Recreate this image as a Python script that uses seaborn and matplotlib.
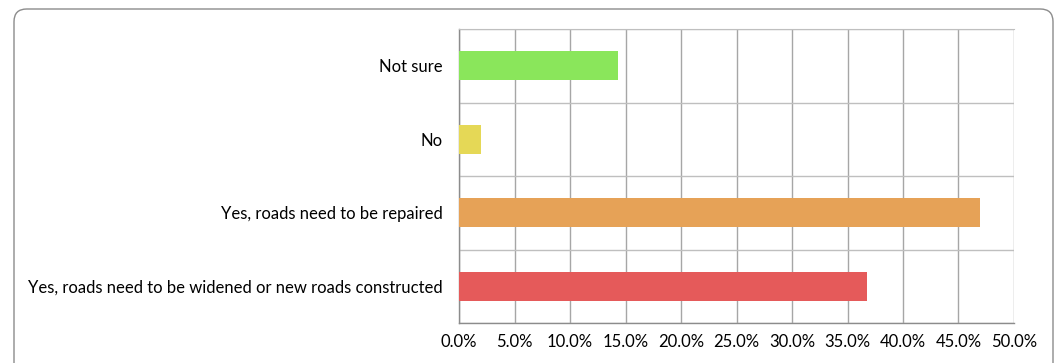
import numpy as np
import matplotlib
matplotlib.use('Agg')
import matplotlib.pyplot as plt
from matplotlib.patches import FancyBboxPatch
from matplotlib.ticker import PercentFormatter
import pandas as pd
import seaborn as sns

categories = ['Not sure', 'No', 'Yes, roads need to be repaired',
              'Yes, roads need to be widened or new roads constructed']
shares = [14.3, 2.0, 46.9, 36.8]
bar_colors = ['#8AE65B', '#E5D856', '#E6A257', '#E55A5A']
xticks = np.arange(0, 50.1, 5)

sns.set_style('white')
plt.rcParams['font.family'] = ['Lato', 'DejaVu Sans']

df = pd.DataFrame({'category': categories, 'share': shares})

fig = plt.figure(figsize=(10.57, 3.63), dpi=100)
ax = fig.add_axes([459/1057, 1-323/363, (1014-459)/1057, (323-29)/363])

sns.barplot(data=df, x='share', y='category', hue='category', palette=bar_colors,
            order=categories, hue_order=categories, width=0.4, legend=False,
            saturation=1, linewidth=0, ax=ax, zorder=3)

ax.set_xlim(0, 50)
ax.set_ylim(3.5, -0.5)
ax.set_xticks(xticks)
ax.xaxis.set_major_formatter(PercentFormatter(decimals=1))
ax.set_yticks(np.arange(-0.5, 4, 1), minor=True)
ax.set_yticks(range(len(categories)))
ax.set_yticklabels(categories)
ax.grid(axis='x', color='#A6A6A6', linewidth=1, zorder=0)
ax.grid(axis='y', which='minor', color='#BFBFBF', linewidth=1, zorder=0)
ax.grid(axis='y', which='major', visible=False)
ax.set_xlabel('')
ax.set_ylabel('')
ax.tick_params(axis='both', which='both', length=0, labelsize=12, colors='#000000')
ax.tick_params(axis='y', pad=12)
ax.tick_params(axis='x', pad=8)
ax.spines['right'].set_visible(False)
ax.spines['top'].set_color('#BFBFBF')
for s in ['left', 'bottom']:
    ax.spines[s].set_color('#8C8C8C')
    ax.spines[s].set_linewidth(1)

frame = FancyBboxPatch((14/1057, -0.05), (1053-14)/1057, 1-9/363+0.05,
                       boxstyle='round,pad=0,rounding_size=0.012',
                       transform=fig.transFigure, fill=False,
                       edgecolor='#8C8C8C', linewidth=1, mutation_aspect=1057/363)
fig.patches.append(frame)

fig.savefig('out.png', dpi=100)
